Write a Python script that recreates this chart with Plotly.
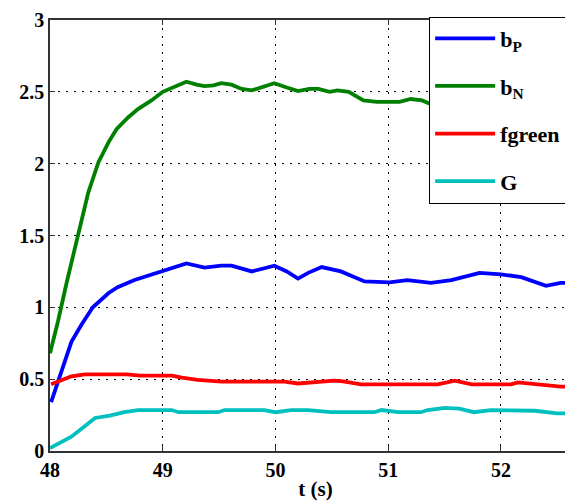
import plotly.graph_objects as go

# ---- data ----
t_bN = [48.00, 48.07, 48.15, 48.24, 48.34, 48.43, 48.52, 48.59, 48.69, 48.78, 48.90, 49.00,
        49.11, 49.21, 49.30, 49.37, 49.45, 49.52, 49.61, 49.70, 49.79, 49.87, 49.99, 50.10,
        50.20, 50.30, 50.38, 50.48, 50.55, 50.65, 50.78, 50.90, 51.00, 51.10, 51.20, 51.30,
        51.42, 51.60, 52.00, 52.40, 52.71]
v_bN = [0.68, 0.90, 1.18, 1.48, 1.80, 2.01, 2.15, 2.24, 2.32, 2.38, 2.44, 2.50,
        2.54, 2.57, 2.55, 2.54, 2.545, 2.56, 2.55, 2.52, 2.51, 2.53, 2.56, 2.53,
        2.505, 2.52, 2.52, 2.50, 2.51, 2.50, 2.44, 2.43, 2.43, 2.43, 2.45, 2.44,
        2.40, 2.40, 2.40, 2.40, 2.40]

t_bP = [48.01, 48.10, 48.19, 48.28, 48.38, 48.52, 48.60, 48.75, 48.90, 49.00, 49.11, 49.21,
        49.37, 49.52, 49.61, 49.79, 49.99, 50.10, 50.20, 50.29, 50.41, 50.58, 50.79, 51.01,
        51.17, 51.38, 51.56, 51.81, 52.00, 52.18, 52.40, 52.53, 52.71]
v_bP = [0.34, 0.56, 0.76, 0.88, 1.00, 1.10, 1.14, 1.19, 1.23, 1.25, 1.28, 1.306,
        1.276, 1.29, 1.29, 1.25, 1.29, 1.25, 1.20, 1.24, 1.28, 1.25, 1.18, 1.174,
        1.19, 1.17, 1.19, 1.24, 1.23, 1.21, 1.15, 1.17, 1.17]

t_fg = [48.01, 48.19, 48.31, 48.68, 48.80, 49.08, 49.17, 49.31, 49.52, 50.08, 50.20, 50.29,
        50.52, 50.60, 50.76, 51.44, 51.59, 51.74, 52.09, 52.15, 52.33, 52.53, 52.71]
v_fg = [0.464, 0.52, 0.534, 0.534, 0.525, 0.525, 0.51, 0.495, 0.483, 0.483, 0.47, 0.476,
        0.49, 0.485, 0.464, 0.464, 0.49, 0.464, 0.464, 0.478, 0.464, 0.448, 0.448]

t_G = [48.00, 48.19, 48.40, 48.53, 48.66, 48.78, 49.08, 49.14, 49.49, 49.55, 49.90, 50.00,
       50.14, 50.29, 50.49, 50.88, 50.94, 51.09, 51.29, 51.35, 51.50, 51.63, 51.76, 51.91,
       52.30, 52.50, 52.71]
v_G = [0.02, 0.10, 0.23, 0.246, 0.27, 0.285, 0.285, 0.27, 0.27, 0.285, 0.285, 0.27,
       0.285, 0.285, 0.27, 0.27, 0.285, 0.27, 0.27, 0.285, 0.30, 0.295, 0.27, 0.285,
       0.28, 0.262, 0.262]

x_ticks = [48, 49, 50, 51, 52]
y_ticks = [0, 0.5, 1, 1.5, 2, 2.5, 3]
y_ticklabels = ["0", "0.5", "1", "1.5", "2", "2.5", "3"]

series = [
    ("<b>b<sub>P</sub></b>", t_bP, v_bP, "#0000FF"),
    ("<b>b<sub>N</sub></b>", t_bN, v_bN, "#008000"),
    ("<b>fgreen</b>", t_fg, v_fg, "#FF0000"),
    ("<b>G</b>", t_G, v_G, "#00BFBF"),
]

FONT = "Liberation Serif"
fig = go.Figure()
for i, (name, t, v, c) in enumerate(series):
    fig.add_trace(go.Scatter(x=t, y=v, mode="lines", name=name,
                             line=dict(color=c, width=3.8),
                             legendgroup=f"g{i}"))

DASH = "1.5px,6.5px"
fig.update_layout(
    width=573, height=503,
    margin=dict(l=42, r=0, t=12, b=60),
    paper_bgcolor="white", plot_bgcolor="white",
    font=dict(family=FONT, size=19, color="black"),
    showlegend=True,
    legend=dict(x=0.714, y=1.008, xanchor="left", yanchor="top",
                bgcolor="white", bordercolor="black", borderwidth=1,
                font=dict(family=FONT, size=22, color="black"),
                itemwidth=60, traceorder="grouped", tracegroupgap=16,
                entrywidth=115),
)
fig.update_xaxes(range=[48, 52.71], tickvals=x_ticks, ticktext=[f"<b>{x}</b>" for x in x_ticks],
                 showgrid=True, gridcolor="black", griddash=DASH, gridwidth=1.2,
                 showline=True, linecolor="#333", linewidth=1.5, mirror="ticks",
                 ticks="inside", ticklen=5, tickcolor="#333",
                 tickfont=dict(family=FONT, size=20),
                 title=dict(text="<b>t (s)</b>", font=dict(family=FONT, size=21), standoff=2),
                 zeroline=False)
fig.update_yaxes(range=[0, 3], tickvals=y_ticks, ticktext=[f"<b>{s}</b>" for s in y_ticklabels],
                 showgrid=True, gridcolor="black", griddash=DASH, gridwidth=1.2,
                 showline=True, linecolor="#333", linewidth=1.5, mirror=False,
                 ticks="inside", ticklen=5, tickcolor="#333",
                 tickfont=dict(family=FONT, size=20),
                 zeroline=False)

fig.write_html("out.html")
